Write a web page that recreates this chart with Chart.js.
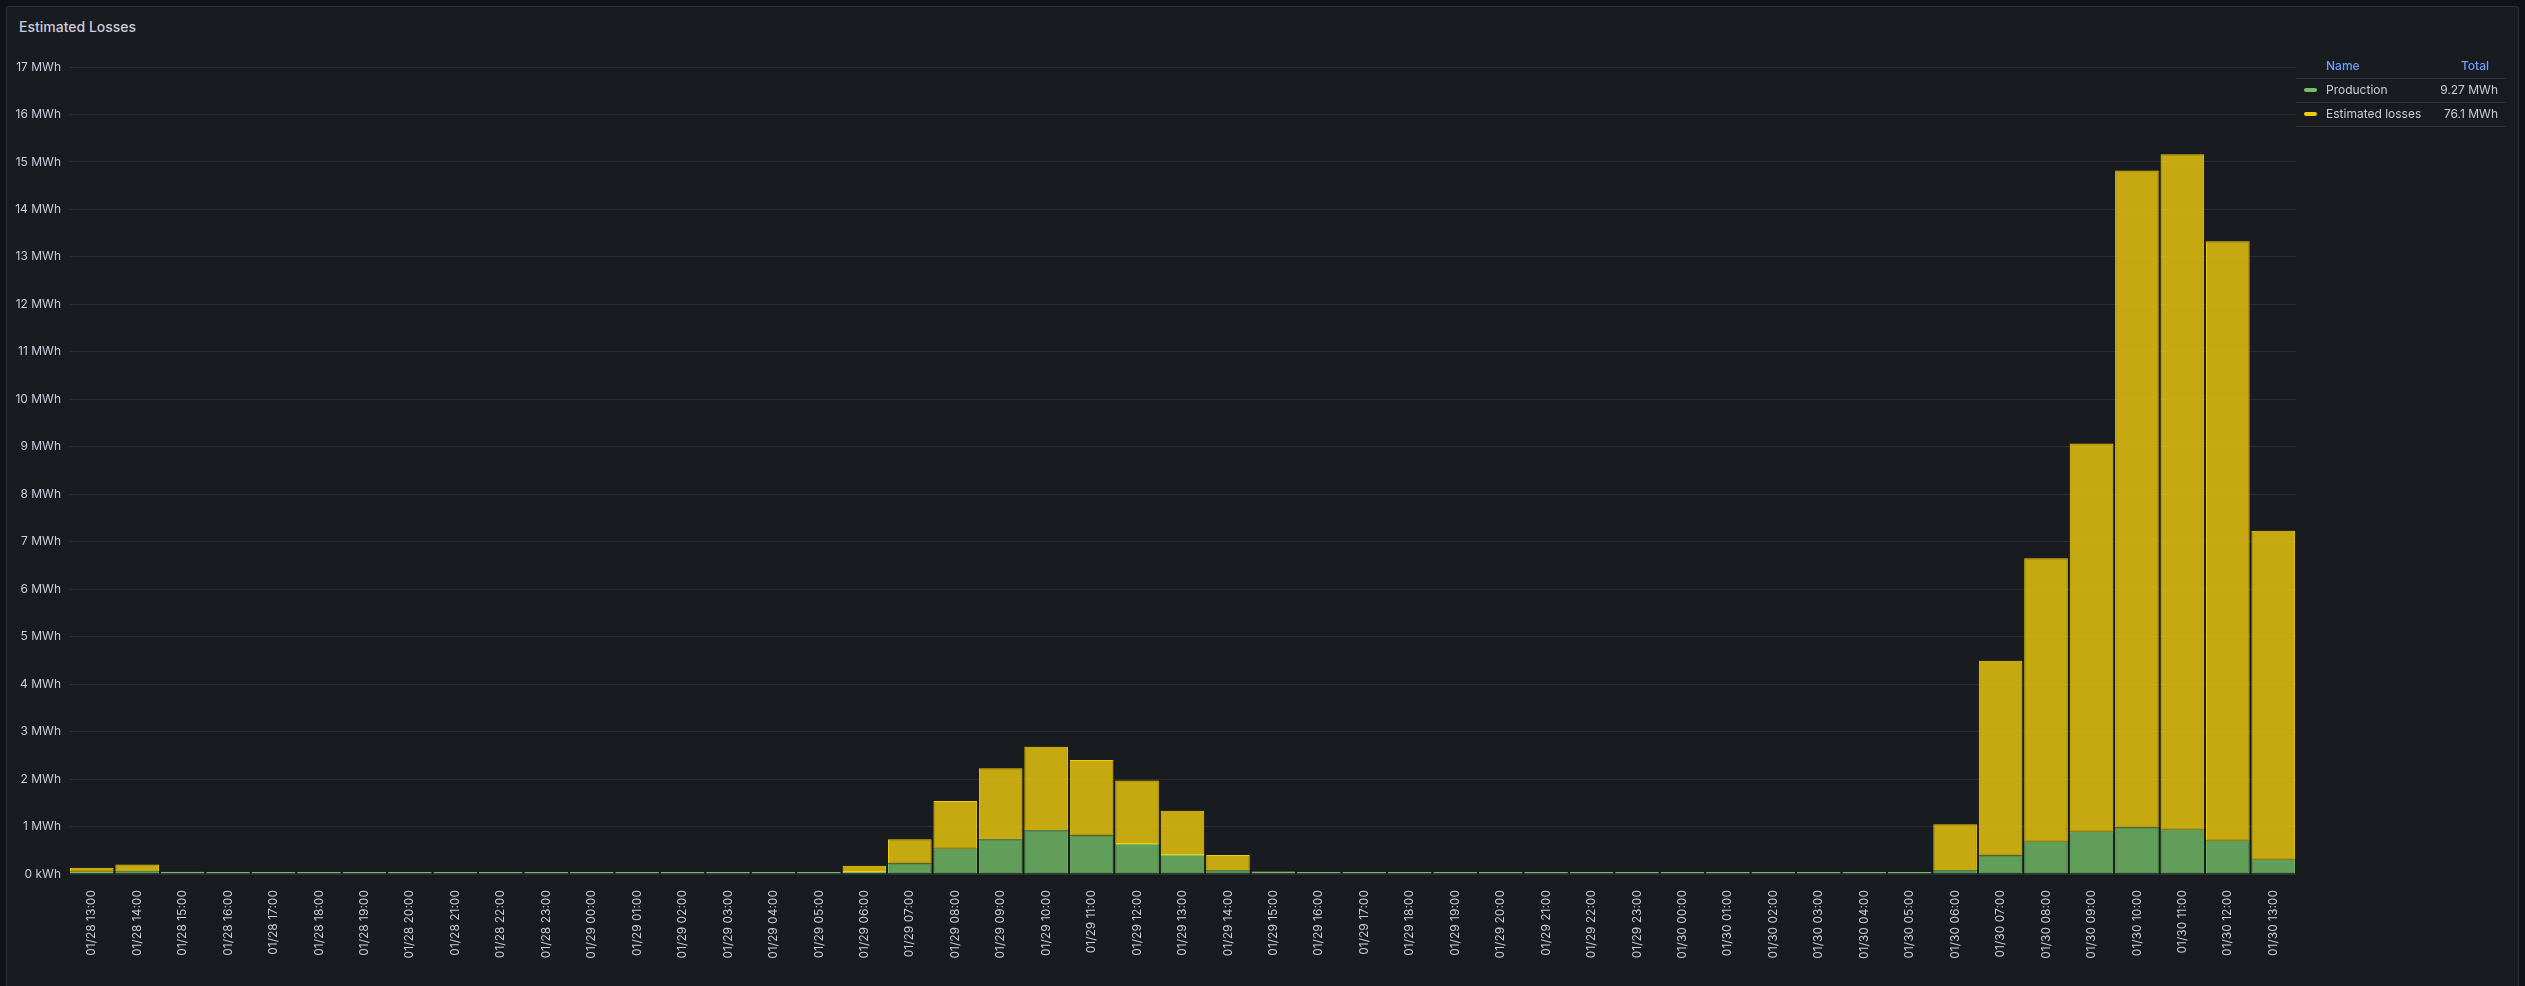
<!DOCTYPE html>
<html>
<head>
<meta charset="utf-8">
<title>Estimated Losses</title>
<script src="https://cdn.jsdelivr.net/npm/chart.js@4.4.0/dist/chart.umd.min.js"></script>
<style>
  html, body { margin: 0; padding: 0; background: #111217; width: 2525px; height: 986px; overflow: hidden; font-family: Inter, "Noto Sans", sans-serif; }
  #panel { position: absolute; left: 6px; top: 6px; width: 2513px; height: 1000px; background: #181b1f; border: 1px solid rgba(204,204,220,0.12); border-radius: 3px; box-sizing: border-box; }
  #title { position: absolute; left: 19px; top: 17px; font-size: 14px; font-weight: 500; color: #ccccdc; line-height: 20px; }
  #wrap { position: absolute; left: 0; top: 0; width: 2525px; height: 986px; }
  .lg { position: absolute; font-size: 12px; line-height: 16px; color: #ccccdc; white-space: nowrap; }
  .sep { position: absolute; left: 2296px; width: 210px; height: 1px; background: rgba(204,204,220,0.12); }
  .mark { position: absolute; width: 13px; height: 4px; border-radius: 2px; }
</style>
</head>
<body>
<div id="panel"></div>
<div id="title">Estimated Losses</div>
<div id="wrap"><canvas id="losses" width="2525" height="986"></canvas></div>
<div id="legend"></div>
<script>
var hours = [
  '01/28 13:00', '01/28 14:00', '01/28 15:00', '01/28 16:00', '01/28 17:00', '01/28 18:00',
  '01/28 19:00', '01/28 20:00', '01/28 21:00', '01/28 22:00', '01/28 23:00',
  '01/29 00:00', '01/29 01:00', '01/29 02:00', '01/29 03:00', '01/29 04:00', '01/29 05:00',
  '01/29 06:00', '01/29 07:00', '01/29 08:00', '01/29 09:00', '01/29 10:00', '01/29 11:00',
  '01/29 12:00', '01/29 13:00', '01/29 14:00', '01/29 15:00', '01/29 16:00', '01/29 17:00',
  '01/29 18:00', '01/29 19:00', '01/29 20:00', '01/29 21:00', '01/29 22:00', '01/29 23:00',
  '01/30 00:00', '01/30 01:00', '01/30 02:00', '01/30 03:00', '01/30 04:00', '01/30 05:00',
  '01/30 06:00', '01/30 07:00', '01/30 08:00', '01/30 09:00', '01/30 10:00', '01/30 11:00',
  '01/30 12:00', '01/30 13:00'
];

// MWh per hour
var production = [
  0.05, 0.06, 0.02, 0, 0, 0, 0, 0, 0, 0, 0,
  0, 0, 0, 0, 0, 0,
  0.03, 0.22, 0.53, 0.73, 0.92, 0.81, 0.63, 0.40, 0.08, 0.005,
  0, 0, 0, 0, 0, 0, 0, 0,
  0, 0, 0, 0, 0, 0,
  0.08, 0.39, 0.68, 0.89, 0.98, 0.93, 0.70, 0.30
];

var estimatedLosses = [
  0.08, 0.14, 0.005, 0, 0, 0, 0, 0, 0, 0, 0,
  0, 0, 0, 0, 0, 0,
  0.13, 0.51, 1.01, 1.50, 1.76, 1.59, 1.34, 0.93, 0.32, 0.01,
  0, 0, 0, 0, 0, 0, 0, 0,
  0, 0, 0, 0, 0, 0,
  0.97, 4.10, 5.97, 8.18, 13.84, 14.23, 12.63, 6.93
];

var seriesNames = ['Production', 'Estimated losses'];
var seriesTotals = ['9.27 MWh', '76.1 MWh'];
var seriesColors = ['#73bf69', '#f2cc0c'];
var seriesFills = ['rgba(115,191,105,0.8)', 'rgba(242,204,12,0.8)'];

var textColor = '#ccccdc';

var ctx = document.getElementById('losses').getContext('2d');
var chartLosses = new Chart(ctx, {
    type: 'bar',
    data: {
        labels: hours,
        datasets: [{
            label: seriesNames[0],
            data: production,
            backgroundColor: seriesFills[0],
            borderColor: seriesColors[0],
            borderWidth: 1,
            borderSkipped: false,
            minBarLength: 2
        }, {
            label: seriesNames[1],
            data: estimatedLosses,
            backgroundColor: seriesFills[1],
            borderColor: seriesColors[1],
            borderWidth: 1,
            borderSkipped: false
        }]
    },
    options: {
        responsive: false,
        animation: false,
        categoryPercentage: 1,
        barPercentage: 0.96,
        layout: { padding: { left: 0, right: 229, top: 67, bottom: 0 } },
        plugins: {
            legend: { display: false },
            tooltip: { enabled: false }
        },
        scales: {
            x: {
                stacked: true,
                grid: { display: false, drawTicks: false },
                border: { display: false },
                ticks: {
                    color: textColor,
                    font: { family: 'Inter', size: 12 },
                    autoSkip: false,
                    minRotation: 90,
                    maxRotation: 90,
                    padding: 16
                },
                afterFit: function (s) { s.height = 112; }
            },
            y: {
                stacked: true,
                min: 0,
                max: 17,
                grid: { color: 'rgba(204,204,220,0.1)', drawTicks: false },
                border: { display: false },
                ticks: {
                    stepSize: 1,
                    color: textColor,
                    font: { family: 'Inter', size: 12 },
                    padding: 8,
                    callback: function (v) { return v === 0 ? '0 kWh' : v + ' MWh'; }
                },
                afterFit: function (s) { s.width = 69; }
            }
        }
    }
});

// table legend on the right, as in the dashboard
var legend = document.getElementById('legend');
var html = '';
html += '<div class="lg" style="left:2326px;top:58px;color:#6e9fff;font-weight:500">Name</div>';
html += '<div class="lg" style="left:2400px;width:89px;text-align:right;top:58px;color:#6e9fff;font-weight:500">Total</div>';
html += '<div class="sep" style="top:78px"></div>';
for (var i = 0; i < seriesNames.length; i++) {
    var y = 82 + i * 24;
    html += '<div class="mark" style="left:2304px;top:' + (y + 6) + 'px;background:' + seriesColors[i] + '"></div>';
    html += '<div class="lg" style="left:2326px;top:' + y + 'px">' + seriesNames[i] + '</div>';
    html += '<div class="lg" style="left:2420px;width:78px;text-align:right;top:' + y + 'px">' + seriesTotals[i] + '</div>';
    html += '<div class="sep" style="top:' + (y + 20) + 'px"></div>';
}
legend.innerHTML = html;
</script>
</body>
</html>
